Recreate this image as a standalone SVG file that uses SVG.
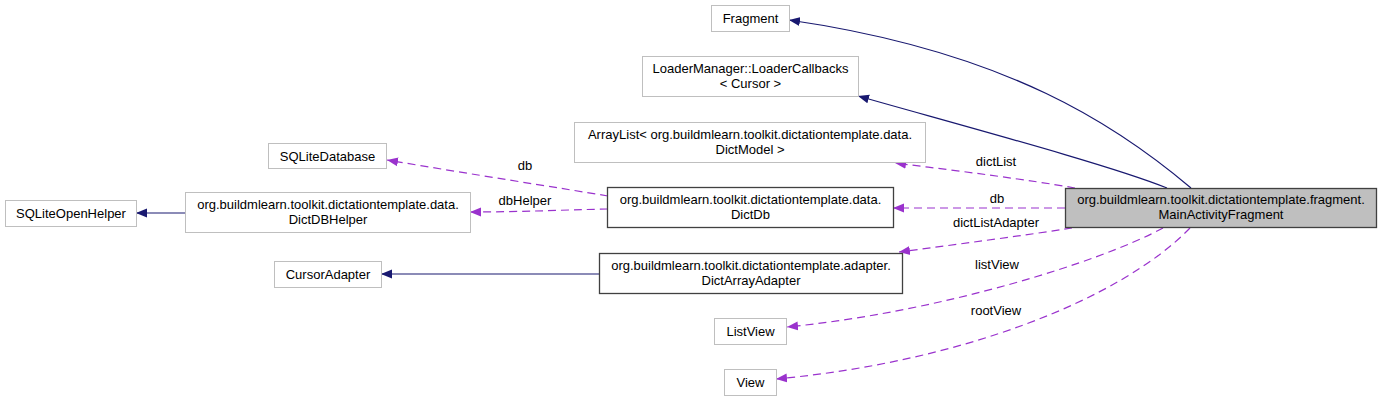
<svg xmlns="http://www.w3.org/2000/svg" width="1381" height="401" viewBox="0 0 1381 401">
<style>
text{font-family:"Liberation Sans",Arial,sans-serif;font-size:13px;fill:#000;text-anchor:middle}
.g{fill:#fff;stroke:#bfbfbf;stroke-width:1}
.b{fill:#fff;stroke:#404040;stroke-width:1.3}
.m{fill:#bfbfbf;stroke:#404040;stroke-width:1.3}
.inh{fill:none;stroke:#191970;stroke-width:1.2}
.use{fill:none;stroke:#9a32cd;stroke-width:1.2;stroke-dasharray:8,5}
</style>
<defs>
<marker id="ah" markerWidth="12" markerHeight="10" refX="11" refY="5" orient="auto" markerUnits="userSpaceOnUse"><path d="M0,0.5 L11,5 L0,9.5 Z" fill="#191970"/></marker>
<marker id="ap" markerWidth="12" markerHeight="10" refX="11" refY="5" orient="auto" markerUnits="userSpaceOnUse"><path d="M0,0.5 L11,5 L0,9.5 Z" fill="#9a32cd"/></marker>
</defs>
<rect width="1381" height="401" fill="#fff"/>
<g id="connectors">
<path class="inh" d="M1191,188 C1120,128 1010,52 789,20" marker-end="url(#ah)"/>
<path class="inh" d="M1167,188 C1110,165 960,125 858,96" marker-end="url(#ah)"/>
<path class="use" d="M1075,188 C1030,180 960,171 895,163" marker-end="url(#ap)"/>
<path class="use" d="M1065,208 L893,208" marker-end="url(#ap)"/>
<path class="use" d="M1072,228 C1020,236 960,244 899,252" marker-end="url(#ap)"/>
<path class="use" d="M1163,228 C1100,262 940,312 787,327" marker-end="url(#ap)"/>
<path class="use" d="M1190,228 C1120,300 960,362 776,379" marker-end="url(#ap)"/>
<path class="use" d="M608,196 C560,188 470,174 387,160" marker-end="url(#ap)"/>
<path class="use" d="M608,209 C560,210 520,212 470,212" marker-end="url(#ap)"/>
<path class="inh" d="M185,213 L136,213" marker-end="url(#ah)"/>
<path class="inh" d="M599,274 L381,274" marker-end="url(#ah)"/>
<text x="996" y="166">dictList</text>
<text x="997" y="203">db</text>
<text x="996" y="227">dictListAdapter</text>
<text x="997" y="269">listView</text>
<text x="996" y="315">rootView</text>
<text x="525" y="170">db</text>
<text x="525" y="205">dbHelper</text>
</g>
<g id="MainActivityFragment">
<rect class="m" x="1065.5" y="188.5" width="311" height="39"/>
<text x="1221" y="204">org.buildmlearn.toolkit.dictationtemplate.fragment.</text>
<text x="1221" y="219">MainActivityFragment</text>
</g>
<g id="Fragment">
<rect class="g" x="711.5" y="5.5" width="78" height="26"/>
<text x="750.5" y="23">Fragment</text>
</g>
<g id="LoaderCallbacks">
<rect class="g" x="642.5" y="56.5" width="216" height="40"/>
<text x="750.5" y="72.5">LoaderManager::LoaderCallbacks</text>
<text x="750.5" y="87.5">&lt; Cursor &gt;</text>
</g>
<g id="ArrayList">
<rect class="g" x="574.5" y="122.5" width="351" height="40"/>
<text x="750" y="138.5">ArrayList&lt; org.buildmlearn.toolkit.dictationtemplate.data.</text>
<text x="750" y="153.5">DictModel &gt;</text>
</g>
<g id="SQLiteDatabase">
<rect class="g" x="268.5" y="143.5" width="118" height="25"/>
<text x="327.5" y="160.5">SQLiteDatabase</text>
</g>
<g id="SQLiteOpenHelper">
<rect class="g" x="5.5" y="200.5" width="131" height="26"/>
<text x="71" y="218">SQLiteOpenHelper</text>
</g>
<g id="DictDBHelper">
<rect class="g" x="185.5" y="192.5" width="285" height="40"/>
<text x="328" y="208.5">org.buildmlearn.toolkit.dictationtemplate.data.</text>
<text x="328" y="223.5">DictDBHelper</text>
</g>
<g id="DictDb">
<rect class="b" x="607.5" y="187.5" width="286" height="40"/>
<text x="750.5" y="203.5">org.buildmlearn.toolkit.dictationtemplate.data.</text>
<text x="750.5" y="218.5">DictDb</text>
</g>
<g id="CursorAdapter">
<rect class="g" x="274.5" y="261.5" width="107" height="26"/>
<text x="328" y="279">CursorAdapter</text>
</g>
<g id="DictArrayAdapter">
<rect class="b" x="599.5" y="253.5" width="303" height="40"/>
<text x="751" y="269.5">org.buildmlearn.toolkit.dictationtemplate.adapter.</text>
<text x="751" y="284.5">DictArrayAdapter</text>
</g>
<g id="ListView">
<rect class="g" x="714.5" y="318.5" width="72" height="26"/>
<text x="750.5" y="336">ListView</text>
</g>
<g id="View">
<rect class="g" x="724.5" y="369.5" width="52" height="26"/>
<text x="750.5" y="387">View</text>
</g>
</svg>
